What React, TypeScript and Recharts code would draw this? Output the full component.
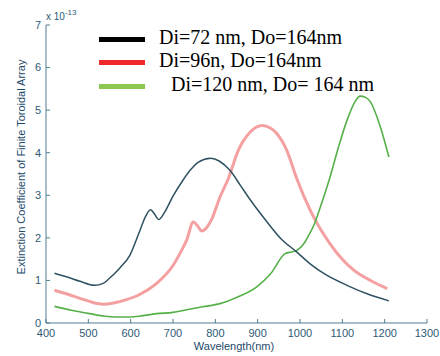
import React from "react";
import { LineChart, Line, XAxis, YAxis } from "recharts";

const xTicks = [400, 500, 600, 700, 800, 900, 1000, 1100, 1200, 1300];
const yTicks = [0, 1, 2, 3, 4, 5, 6, 7];

const seriesLabels = ["Di=72 nm, Do=164nm", "Di=96n, Do=164nm", "Di=120 nm, Do= 164 nm"];

const di72: [number, number][] = [
  [420, 1.17], [450, 1.08], [480, 0.98], [515, 0.885], [535, 0.93], [550, 1.05], [575, 1.3],
  [598, 1.59], [621, 2.15], [635, 2.5], [647, 2.66], [657, 2.55], [666, 2.43], [680, 2.6],
  [700, 2.98], [720, 3.3], [740, 3.58], [760, 3.78], [789, 3.87], [810, 3.8], [835, 3.58],
  [860, 3.22], [882, 2.9], [920, 2.4], [955, 1.98], [992, 1.67], [1024, 1.39], [1060, 1.14],
  [1111, 0.885], [1160, 0.68], [1210, 0.52],
];

const di96: [number, number][] = [
  [420, 0.77], [450, 0.68], [490, 0.55], [520, 0.46], [535, 0.44], [560, 0.47], [590, 0.55],
  [621, 0.67], [660, 0.92], [700, 1.35], [720, 1.7], [732, 1.94], [748, 2.37], [758, 2.28],
  [768, 2.16], [780, 2.25], [791, 2.43], [811, 2.96], [831, 3.4], [854, 4.05], [882, 4.48],
  [910, 4.64], [930, 4.58], [945, 4.45], [969, 4.05], [992, 3.4], [1024, 2.65], [1071, 1.86],
  [1127, 1.24], [1170, 0.98], [1206, 0.81],
];

const di120: [number, number][] = [
  [420, 0.39], [460, 0.3], [503, 0.22], [540, 0.16], [582, 0.14], [620, 0.16], [661, 0.22],
  [700, 0.25], [732, 0.31], [770, 0.38], [811, 0.455], [850, 0.6], [898, 0.85], [930, 1.15],
  [965, 1.63], [980, 1.67], [993, 1.71], [1008, 1.85], [1020, 2.05], [1035, 2.35], [1048, 2.72],
  [1071, 3.43], [1090, 4.1], [1111, 4.76], [1130, 5.2], [1142, 5.33], [1155, 5.3], [1166, 5.2],
  [1190, 4.6], [1210, 3.9],
];

const toRows = (pts: [number, number][]) => pts.map(([x, y]) => ({ x, y }));

const axisColor = "#507f94";
const tickStyle = { fontSize: 11, fill: "#2d5a75", fontFamily: "Liberation Sans, Arial, sans-serif" };

export default function App() {
  return (
    <div style={{ position: "absolute", left: 0, top: 0, width: 440, height: 356, background: "#fff" }}>
      <LineChart width={440} height={356} margin={{ top: 25, right: 13, bottom: 0, left: 0 }}>
        <XAxis
          dataKey="x"
          type="number"
          domain={[400, 1300]}
          ticks={xTicks}
          interval={0}
          allowDataOverflow
          height={33}
          tickSize={-4}
          tickMargin={10}
          stroke={axisColor}
          tick={tickStyle}
        />
        <XAxis
          xAxisId="top"
          orientation="top"
          dataKey="x"
          type="number"
          domain={[400, 1300]}
          ticks={xTicks}
          interval={0}
          allowDataOverflow
          height={0}
          tickSize={-4}
          tick={false}
          stroke={axisColor}
        />
        <YAxis
          type="number"
          domain={[0, 7]}
          ticks={yTicks}
          interval={0}
          allowDataOverflow
          width={46}
          tickSize={-4}
          tickMargin={9}
          stroke={axisColor}
          tick={tickStyle}
        />
        <YAxis
          yAxisId="right"
          orientation="right"
          type="number"
          domain={[0, 7]}
          ticks={yTicks}
          interval={0}
          width={0}
          tickSize={-4}
          tick={false}
          stroke={axisColor}
        />
        <Line data={toRows(di96)} dataKey="y" type="monotone" stroke="#f5a0a0" strokeWidth={3} dot={false} isAnimationActive={false} />
        <Line data={toRows(di120)} dataKey="y" type="monotone" stroke="#55b048" strokeWidth={1.6} dot={false} isAnimationActive={false} />
        <Line data={toRows(di72)} dataKey="y" type="monotone" stroke="#2e5262" strokeWidth={1.5} dot={false} isAnimationActive={false} />
      </LineChart>

      {/* exponent */}
      <div style={{ position: "absolute", left: 46, top: 9, fontFamily: "Liberation Sans, Arial, sans-serif", fontSize: 10, color: "#2d5a75", whiteSpace: "nowrap" }}>
        x 10<sup style={{ fontSize: 8, position: "relative", top: -1 }}>-13</sup>
      </div>

      {/* y label */}
      <div
        style={{
          position: "absolute",
          left: 21,
          top: 167,
          transform: "translate(-50%, -50%) rotate(-90deg)",
          fontFamily: "Liberation Sans, Arial, sans-serif",
          fontSize: 11,
          color: "#1d4a6a",
          whiteSpace: "nowrap",
        }}
      >
        Extinction Coefficient of Finite Toroidal Array
      </div>

      {/* x label */}
      <div
        style={{
          position: "absolute",
          left: 234,
          top: 346,
          transform: "translate(-50%, -50%)",
          fontFamily: "Liberation Sans, Arial, sans-serif",
          fontSize: 11,
          color: "#1d4a6a",
          whiteSpace: "nowrap",
        }}
      >
        Wavelength(nm)
      </div>

      {/* legend */}
      {[
        { color: "#000000", y: 39, label: seriesLabels[0], tx: 159 },
        { color: "#ee2a2a", y: 62, label: seriesLabels[1], tx: 159 },
        { color: "#8cc850", y: 86, label: seriesLabels[2], tx: 171 },
      ].map((it, i) => (
        <React.Fragment key={i}>
          <div style={{ position: "absolute", left: 99, top: it.y - 2.5, width: 46, height: 5, background: it.color }} />
          <div
            style={{
              position: "absolute",
              left: it.tx,
              top: it.y - 13,
              fontFamily: "Liberation Serif, Times New Roman, serif",
              fontSize: 20,
              lineHeight: "22px",
              color: "#000",
              whiteSpace: "nowrap",
            }}
          >
            {it.label}
          </div>
        </React.Fragment>
      ))}
    </div>
  );
}
